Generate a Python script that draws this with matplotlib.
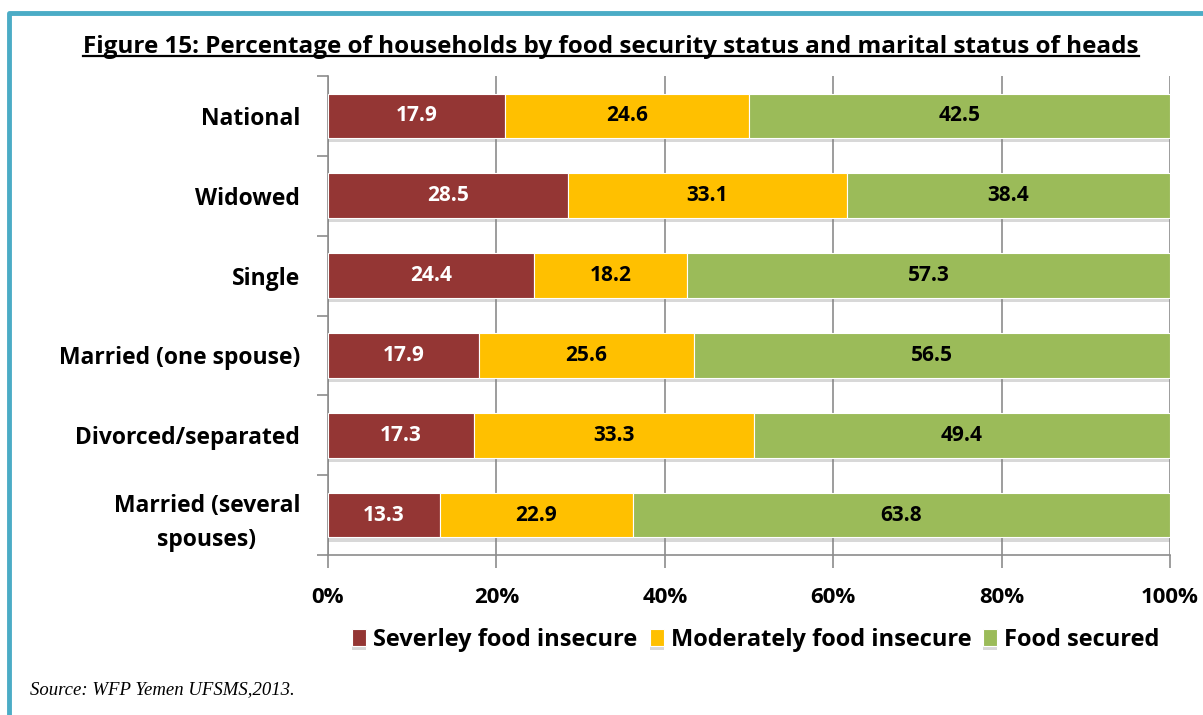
import numpy as np
import matplotlib
matplotlib.use("Agg")
import matplotlib.pyplot as plt
import matplotlib.patheffects as pe
from matplotlib.lines import Line2D
from matplotlib.ticker import FixedLocator, PercentFormatter

categories = ["National", "Widowed", "Single", "Married (one spouse)",
              "Divorced/separated", "Married (several\nspouses)"]
severe = [17.9, 28.5, 24.4, 17.9, 17.3, 13.3]
moderate = [24.6, 33.1, 18.2, 25.6, 33.3, 22.9]
secured = [42.5, 38.4, 57.3, 56.5, 49.4, 63.8]
series_names = ["Severley food insecure", "Moderately food insecure", "Food secured"]
colors = ["#943634", "#FFC000", "#9BBB59"]
label_colors = ["white", "black", "black"]

W, H = 1203, 715
plt.rcParams["font.family"] = ["Open Sans", "DejaVu Sans"]
fig = plt.figure(figsize=(W / 100, H / 100), dpi=100)

ax = fig.add_axes([328 / W, 1 - 555 / H, (1170 - 328) / W, (555 - 76) / H])

data = np.array([severe, moderate, secured], dtype=float)
shares = data / data.sum(axis=0) * 100   # 100% stacked
y = np.arange(len(categories))
left = np.zeros(len(categories))
shadow = [pe.SimplePatchShadow(offset=(0, -3), alpha=0.3, shadow_rgbFace="gray"), pe.Normal()]
for i in range(3):
    bars = ax.barh(y, shares[i], left=left, height=0.56, color=colors[i],
                   edgecolor="white", linewidth=0.8, label=series_names[i], zorder=3)
    for b in bars:
        b.set_path_effects(shadow)
    for j in range(len(categories)):
        ax.text(left[j] + shares[i][j] / 2, y[j], f"{data[i][j]:.1f}",
                ha="center", va="center", fontsize=15, fontweight="bold",
                color=label_colors[i], zorder=4)
    left += shares[i]

ax.set_xlim(0, 100)
ax.set_ylim(len(categories) - 0.5, -0.5)
ax.xaxis.set_major_locator(FixedLocator([0, 20, 40, 60, 80, 100]))
ax.xaxis.set_major_formatter(PercentFormatter(decimals=0))
ax.grid(axis="x", color="#8c8c8c", linewidth=1.2, zorder=0)
ax.set_axisbelow(True)

ax.set_yticks(y)
ax.set_yticklabels(categories, fontsize=16.5, fontweight="bold", linespacing=1.55,
                   multialignment="center")
ax.set_yticks(np.arange(len(categories) + 1) - 0.5, minor=True)
ax.tick_params(axis="y", which="major", length=0, pad=20)
ax.tick_params(axis="y", which="minor", length=8, color="#8c8c8c", width=1.2)
ax.tick_params(axis="x", length=9, color="#8c8c8c", width=1.2, pad=14,
               labelsize=16)
for lbl in ax.get_xticklabels():
    lbl.set_fontweight("bold")
for side in ["top", "right"]:
    ax.spines[side].set_visible(False)
for side in ["left", "bottom"]:
    ax.spines[side].set_color("#8c8c8c")
    ax.spines[side].set_linewidth(1.2)

# title with underline
title = fig.text(611 / W, 1 - 47 / H,
                 "Figure 15: Percentage of households by food security status and marital status of heads",
                 ha="center", va="center", fontsize=17.5, fontweight="bold")
fig.canvas.draw()
bb = title.get_window_extent().transformed(fig.transFigure.inverted())
fig.add_artist(Line2D([bb.x0, bb.x1], [bb.y0 + 0.004, bb.y0 + 0.004],
                      transform=fig.transFigure, color="black", linewidth=1.6))

fig.legend(loc="center", bbox_to_anchor=(756 / W, 1 - 640 / H), ncol=3,
           frameon=False, handlelength=0.6, handleheight=0.7,
           handletextpad=0.3, columnspacing=0.5,
           prop={"size": 17, "weight": "bold"})

fig.text(30 / W, 1 - 690 / H, "Source: WFP Yemen UFSMS,2013.", ha="left",
         va="center", fontsize=13.5, style="italic", family="Liberation Serif")

# frame
fig.add_artist(Line2D([9 / W, 9 / W, 1.0], [0.0, 1 - 13 / H, 1 - 13 / H],
                      transform=fig.transFigure, color="#4BACC6", linewidth=3.5,
                      solid_joinstyle="round"))

fig.savefig("out.png", dpi=100)
